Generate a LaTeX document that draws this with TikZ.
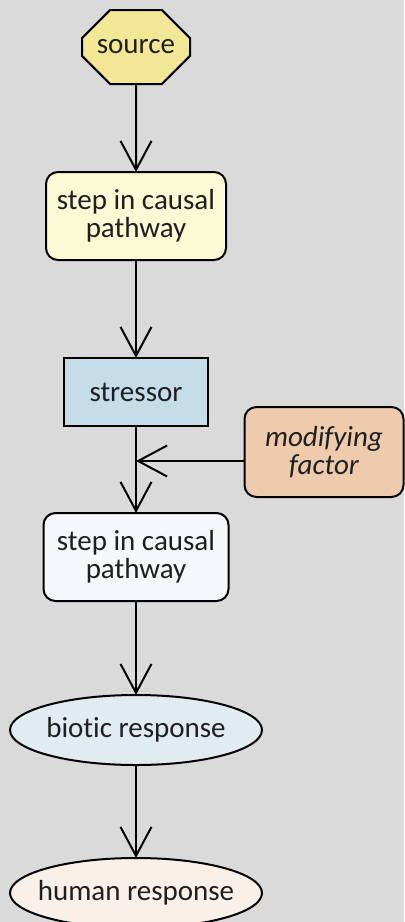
\documentclass[tikz,border=0pt]{standalone}
\usepackage{fontspec}
\setmainfont{Carlito}[Ligatures=NoCommon]
\usetikzlibrary{shapes.geometric, shapes.misc, arrows.meta}

\definecolor{bggray}{HTML}{DADADA}
\definecolor{srcyellow}{HTML}{F2E794}
\definecolor{stepyellow}{HTML}{FAFAD4}
\definecolor{stressblue}{HTML}{C5DDE8}
\definecolor{stepwhite}{HTML}{F5F7FA}
\definecolor{modpeach}{HTML}{EECBAC}
\definecolor{bioblue}{HTML}{E1ECF1}
\definecolor{humpink}{HTML}{FAF0E8}

\begin{document}
\begin{tikzpicture}[
    x=0.5pt, y=-0.5pt,
    line width=1pt,
    >={Straight Barb[length=14.5pt,width=15.5pt]},
    every node/.style={font=\fontsize{14.5pt}{14pt}\selectfont, text=black!88,
        align=center, inner sep=0pt, outer sep=0pt},
    box/.style={draw, rounded corners=6pt, minimum width=90pt, minimum height=44pt},
    oval/.style={ellipse, draw, inner xsep=-5pt, minimum width=126pt, minimum height=35pt}
]

% Background
\fill[bggray] (0,0) rectangle (404,922);
\useasboundingbox (0,0) rectangle (404,922);

% Nodes
\node[chamfered rectangle, chamfered rectangle xsep=10.5pt, chamfered rectangle ysep=10.5pt,
      draw, fill=srcyellow, minimum width=54pt, minimum height=37pt] (source) at (136,47) {source};
\node[box, fill=stepyellow] (step1) at (136,216) {step in causal\\pathway};
\node[draw, fill=stressblue, minimum width=72pt, minimum height=34pt] (stressor) at (136,392) {stressor};
\node[box, fill=stepwhite, minimum width=92.5pt] (step2) at (136,557) {step in causal\\pathway};
\node[box, fill=modpeach, minimum width=79.5pt, minimum height=45pt] (modify) at (324,452)
    {\itshape modifying\\\itshape factor};
\node[oval, fill=bioblue] (biotic) at (136,730) {biotic response};
\node[oval, fill=humpink] (human) at (136,893) {human response};

% Junction on the stressor line
\coordinate (junc) at (136,461);

% Connectors
\draw[->] (source) -- (step1);
\draw[->] (step1) -- (stressor);
\draw[->] (stressor) -- (step2);
\draw[->] (modify.west |- junc) -- (junc);
\draw[->] (step2) -- (biotic);
\draw[->] (biotic) -- (human);

\end{tikzpicture}
\end{document}
